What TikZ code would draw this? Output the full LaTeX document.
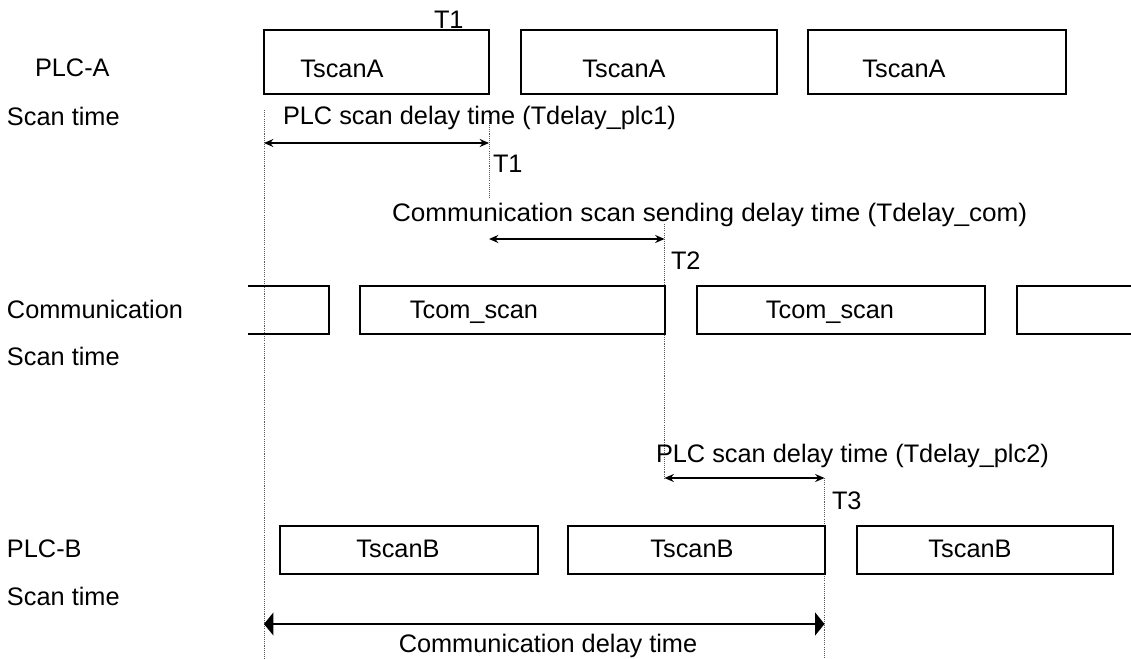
\documentclass[tikz,border=0pt]{standalone}
\usepackage{fontspec}
\setmainfont{Liberation Sans}
\usetikzlibrary{arrows.meta}
\begin{document}
\begin{tikzpicture}[x=0.75pt,y=-0.75pt,
  box/.style={draw=black,line width=1.5pt},
  lbl/.style={inner sep=0pt,outer sep=0pt,font=\fontsize{19}{22}\selectfont},
  guide/.style={draw=gray!70!black,line width=0.6pt,dash pattern=on 0.8pt off 0.8pt},
  span/.style={line width=1.3pt,{Stealth[length=7pt,width=6pt]}-{Stealth[length=7pt,width=6pt]}},
  bigspan/.style={line width=1.3pt,{Triangle[length=7pt,width=17pt]}-{Triangle[length=7pt,width=17pt]}}]
\useasboundingbox (0,0) rectangle (1131,659);
\fill[white] (0,0) rectangle (1131,659);

% time coordinates
\coordinate (g0top) at (264,110);
\coordinate (g0bot) at (264,659);
\coordinate (g1top) at (489,110);
\coordinate (g1bot) at (489,198);
\coordinate (g2top) at (664.5,224);
\coordinate (g2bot) at (664.5,478);
\coordinate (g3top) at (824.5,478);
\coordinate (g3bot) at (824.5,659);

\coordinate (a1l) at (264,143);
\coordinate (a1r) at (489,143);
\coordinate (a2l) at (489,239);
\coordinate (a2r) at (664.5,239);
\coordinate (a3l) at (664.5,478);
\coordinate (a3r) at (824.5,478);
\coordinate (a4l) at (264,624);
\coordinate (a4r) at (824.5,624);

% dotted guides
\draw[guide] (g0top) -- (g0bot);
\draw[guide] (g1top) -- (g1bot);
\draw[guide] (g2top) -- (g2bot);
\draw[guide] (g3top) -- (g3bot);

% PLC-A row
\node[lbl,anchor=base west] (t1top) at (434,29) {T1};
\draw[box] (264,30) rectangle (489,94);
\draw[box] (521,30) rectangle (777,94);
\draw[box] (808,30) rectangle (1066,94);
\node[lbl,anchor=base] (sa1) at (342,78) {TscanA};
\node[lbl,anchor=base] (sa2) at (624,78) {TscanA};
\node[lbl,anchor=base] (sa3) at (904,78) {TscanA};
\node[lbl,anchor=base west] (plca) at (35,77) {PLC-A};
\node[lbl,anchor=base west] (sta) at (7,126) {Scan time};

% PLC scan delay 1
\node[lbl,anchor=base west] (d1) at (283,125) {PLC scan delay time (Tdelay\_plc1)};
\draw[span] (a1l) -- (a1r);
\node[lbl,anchor=base west] (t1) at (493,173) {T1};

% Communication sending delay
\node[lbl,anchor=base west,xscale=1.03] (dc) at (392,222) {Communication scan sending delay time (Tdelay\_com)};
\draw[span] (a2l) -- (a2r);
\node[lbl,anchor=base west] (t2) at (671,270) {T2};

% Communication row
\draw[box] (248,286) -- (329,286) -- (329,334) -- (248,334);
\draw[box] (360,286) rectangle (665,334);
\draw[box] (697,286) rectangle (985,334);
\draw[box] (1131,286) -- (1017,286) -- (1017,334) -- (1131,334);
\node[lbl,anchor=base] (cs1) at (474,318) {Tcom\_scan};
\node[lbl,anchor=base] (cs2) at (830,318) {Tcom\_scan};
\node[lbl,anchor=base west] (com) at (7,318) {Communication};
\node[lbl,anchor=base west] (stc) at (7,365) {Scan time};

% PLC scan delay 2
\node[lbl,anchor=base west] (d2) at (656,462) {PLC scan delay time (Tdelay\_plc2)};
\draw[span] (a3l) -- (a3r);
\node[lbl,anchor=base west] (t3) at (832,509) {T3};

% PLC-B row
\draw[box] (280,526) rectangle (538,574);
\draw[box] (568,526) rectangle (825,574);
\draw[box] (857,526) rectangle (1113,574);
\node[lbl,anchor=base] (sb1) at (398,557) {TscanB};
\node[lbl,anchor=base] (sb2) at (692,557) {TscanB};
\node[lbl,anchor=base] (sb3) at (970,557) {TscanB};
\node[lbl,anchor=base west] (plcb) at (7,557) {PLC-B};
\node[lbl,anchor=base west] (stb) at (7,605) {Scan time};

% total delay
\draw[bigspan] (a4l) -- (a4r);
\node[lbl,anchor=base] (cd) at (548,652) {Communication delay time};
\end{tikzpicture}
\end{document}
